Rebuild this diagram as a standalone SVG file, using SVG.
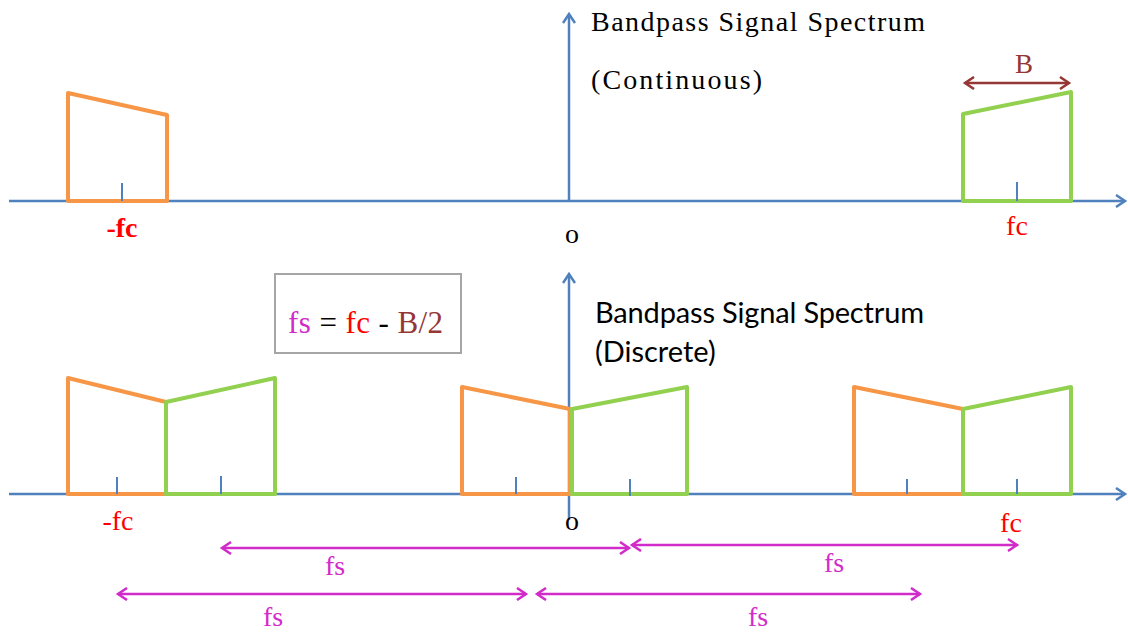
<svg xmlns="http://www.w3.org/2000/svg" width="1128" height="632" viewBox="0 0 1128 632">
<style>
.axis{stroke:#4F81BD;stroke-width:2.5;fill:none}
.tick{stroke:#4F81BD;stroke-width:2;fill:none}
.or{stroke:#F79646;stroke-width:4;fill:none;stroke-linejoin:round}
.gr{stroke:#92D050;stroke-width:4;fill:none;stroke-linejoin:round}
.dim{stroke:#D12BC9;stroke-width:2.5;fill:none}
.bdim{stroke:#953735;stroke-width:2.5;fill:none}
.serif{font-family:"Liberation Serif","DejaVu Serif",serif}
.sans{font-family:Lato,"Open Sans","Liberation Sans",sans-serif}
.red{fill:#FF0000}
.mag{fill:#D12BC9}
.brn{fill:#953735}
</style>
<defs>
<marker id="ah" markerWidth="14" markerHeight="14" refX="11" refY="7" orient="auto-start-reverse" markerUnits="userSpaceOnUse">
<path d="M2,1 L11,7 L2,13" fill="none" stroke="#4F81BD" stroke-width="2.5"/>
</marker>
<marker id="am" markerWidth="14" markerHeight="14" refX="11" refY="7" orient="auto-start-reverse" markerUnits="userSpaceOnUse">
<path d="M2,1 L11,7 L2,13" fill="none" stroke="#D12BC9" stroke-width="2.5"/>
</marker>
<marker id="ab" markerWidth="14" markerHeight="14" refX="11" refY="7" orient="auto-start-reverse" markerUnits="userSpaceOnUse">
<path d="M2,1 L11,7 L2,13" fill="none" stroke="#953735" stroke-width="2.5"/>
</marker>
</defs>
<rect width="1128" height="632" fill="#fff"/>

<g id="axes">
<line class="axis" x1="9" y1="201" x2="1125" y2="201" marker-end="url(#ah)"/>
<line class="axis" x1="569" y1="201" x2="569" y2="14" marker-end="url(#ah)"/>
<line class="axis" x1="9" y1="494" x2="1125" y2="494" marker-end="url(#ah)"/>
<line class="axis" x1="569" y1="520" x2="569" y2="274" marker-end="url(#ah)"/>
</g>

<g id="top-neg">
<polygon class="or" points="68,93 167,115 167,201 68,201"/>
<line class="tick" x1="122" y1="183" x2="122" y2="201"/>
</g>
<g id="top-pos">
<polygon class="gr" points="963,114 1071,92 1071,201 963,201"/>
<line class="tick" x1="1017" y1="182" x2="1017" y2="201"/>
</g>

<g id="bot-1">
<polygon class="or" points="68,378 166,402 166,494 68,494"/>
<polygon class="gr" points="166,402 275,378 275,494 166,494"/>
<line class="tick" x1="117" y1="477" x2="117" y2="494"/>
<line class="tick" x1="221" y1="476" x2="221" y2="494"/>
</g>
<g id="bot-2">
<polygon class="or" points="462,387 570,409 570,494 462,494"/>
<polygon class="gr" points="572,409 687,387 687,494 572,494"/>
<line class="tick" x1="516" y1="477" x2="516" y2="494"/>
<line class="tick" x1="630" y1="479" x2="630" y2="496"/>
</g>
<g id="bot-3">
<polygon class="or" points="854,387 963,409 963,494 854,494"/>
<polygon class="gr" points="963,409 1071,387 1071,494 963,494"/>
<line class="tick" x1="907" y1="479" x2="907" y2="494"/>
<line class="tick" x1="1017" y1="479" x2="1017" y2="494"/>
</g>

<g id="connectors">
<line class="bdim" x1="965" y1="83" x2="1069" y2="83" marker-start="url(#ab)" marker-end="url(#ab)"/>
<line class="dim" x1="222" y1="548" x2="629" y2="548" marker-start="url(#am)" marker-end="url(#am)"/>
<line class="dim" x1="632" y1="545" x2="1017" y2="545" marker-start="url(#am)" marker-end="url(#am)"/>
<line class="dim" x1="118" y1="594" x2="526" y2="594" marker-start="url(#am)" marker-end="url(#am)"/>
<line class="dim" x1="537" y1="594" x2="920" y2="594" marker-start="url(#am)" marker-end="url(#am)"/>
</g>

<g id="formula-box">
<rect x="275" y="274" width="186" height="79" fill="none" stroke="#A6A6A6" stroke-width="2"/>
<text x="288" y="333" class="serif" font-size="31" textLength="155" lengthAdjust="spacing"><tspan class="mag">fs</tspan> = <tspan class="red">fc</tspan> - <tspan class="brn">B/2</tspan></text>
</g>

<g id="labels">
<text x="591" y="31" class="serif" font-size="28" textLength="334" lengthAdjust="spacing">Bandpass Signal Spectrum</text>
<text x="591" y="89" class="serif" font-size="28" textLength="171" lengthAdjust="spacing">(Continuous)</text>
<text x="1024" y="73" class="serif brn" font-size="27" text-anchor="middle">B</text>
<text x="122" y="237" class="serif red" font-size="28" font-weight="bold" text-anchor="middle">-fc</text>
<text x="572" y="243" class="serif" font-size="28" text-anchor="middle">o</text>
<text x="1017" y="235" class="serif red" font-size="28" text-anchor="middle">fc</text>
<text x="595" y="323" class="sans" font-size="29" textLength="329" lengthAdjust="spacing">Bandpass Signal Spectrum</text>
<text x="595" y="362" class="sans" font-size="29">(Discrete)</text>
<text x="118" y="530" class="serif red" font-size="28" text-anchor="middle">-fc</text>
<text x="572" y="530" class="serif" font-size="28" text-anchor="middle">o</text>
<text x="1011" y="532" class="serif red" font-size="28" text-anchor="middle">fc</text>
<text x="335" y="575" class="serif mag" font-size="28" text-anchor="middle">fs</text>
<text x="834" y="572" class="serif mag" font-size="28" text-anchor="middle">fs</text>
<text x="273" y="626" class="serif mag" font-size="28" text-anchor="middle">fs</text>
<text x="758" y="626" class="serif mag" font-size="28" text-anchor="middle">fs</text>
</g>
</svg>
